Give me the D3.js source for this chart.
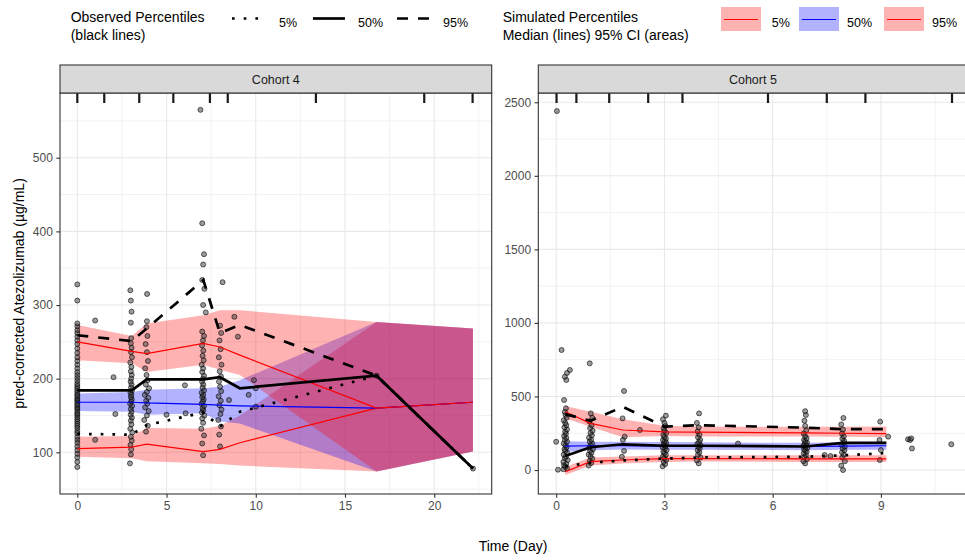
<!DOCTYPE html>
<html><head><meta charset="utf-8">
<script src="https://cdn.jsdelivr.net/npm/d3@7"></script>
<style>body{margin:0;background:#fff}svg{display:block;font-family:"Liberation Sans",Arial,sans-serif}</style>
</head><body><svg id="c" width="965" height="560"></svg>
<script>
// ---------- DATA ----------
const cohorts = ["Cohort 4", "Cohort 5"];
// Cohort 4 bin centres (days)
const bins4 = [0, 3.05, 3.89, 7.06, 7.99, 9.11, 16.77, 22.17];
const obs5_4 = [125, 124, 137, 154, 135, 155, 204, 78];
const obs50_4 = [184, 184, 199, 199, 202, 187, 204, 78];
const obs95_4 = [259, 251, 268, 334, 262, 273, 204, 78];
const sim5_4 = [105, 107, 111, 101, 104, 113, 160, 168];
const sim50_4 = [168, 168, 167, 165, 164, 163, 160, 168];
const sim95_4 = [250, 237, 234, 248, 243, 232, 160, 168];
const ci5lo_4 = [94, 92, 88, 85, 84, 82, 74, 101];
const ci5hi_4 = [121, 122, 133, 132, 136, 150, 277, 268];
const ci50lo_4 = [156, 155, 151, 153, 142, 139, 74, 101];
const ci50hi_4 = [180, 182, 185, 187, 189, 198, 277, 268];
const ci95lo_4 = [225, 221, 209, 219, 212, 205, 74, 101];
const ci95hi_4 = [273, 258, 275, 286, 293, 293, 277, 268];
const rug4 = [0, 1.51, 3.47, 5.38, 7.43, 8.43, 13.37, 19.44, 22.15];
// Cohort 5
const bins5 = [0.25, 0.95, 1.85, 3.0, 3.95, 6.9, 7.95, 9.15];
const obs5_5 = [25, 50, 65, 78, 85, 90, 100, 115];
const obs50_5 = [95, 155, 175, 165, 165, 160, 185, 185];
const obs95_5 = [380, 335, 430, 295, 305, 288, 278, 278];
const sim5_5 = [-12, 57, 68, 78, 78, 76, 76, 76];
const sim50_5 = [163, 165, 166, 163, 162, 160, 162, 165];
const sim95_5 = [396, 317, 272, 260, 258, 252, 250, 248];
const ci5lo_5 = [-34, 30, 45, 55, 58, 55, 55, 55];
const ci5hi_5 = [20, 85, 92, 100, 100, 100, 100, 100];
const ci50lo_5 = [125, 135, 140, 138, 138, 135, 137, 138];
const ci50hi_5 = [195, 192, 192, 190, 188, 185, 188, 192];
const ci95lo_5 = [352, 295, 222, 231, 228, 228, 226, 224];
const ci95hi_5 = [435, 396, 345, 301, 296, 294, 294, 296];
const rug5 = [0.01, 0.56, 1.47, 2.55, 3.5, 5.87, 7.5, 8.57, 10.97];
// observations [time, conc]
const pts4 = [
[0,80],[0,87],[0,93],[0,98],[0,103],[0,108],[0,113],[0,117],[0,121],[0,126],[0,129],[0,133],[0,136],[0,139],[0,142],[0,145],[0,148],[0,151],[0,153],[0,156],[0,159],[0,161],[0,164],[0,166],[0,169],[0,171],[0,173],[0,176],[0,178],[0,181],[0,184],[0,187],[0,190],[0,193],[0,197],[0,201],[0,205],[0,209],[0,214],[0,219],[0,224],[0,229],[0,235],[0,241],[0,247],[0,252],[0,257],[0,262],[0,266],[0,271],[0,275],[0,306],[0,328],
[1.0,279],[1.0,117],[2.03,202],[2.13,152],
[2.95,85],[3.0,97],[3.02,104],[2.98,110],[3.05,116],[3.0,121],[3.08,127],[2.97,132],[3.03,138],[3.0,143],[3.06,147],[2.99,151],[3.04,155],[3.0,159],[3.07,163],[2.96,166],[3.02,169],[3.05,172],[3.0,175],[3.03,178],[2.98,181],[3.06,184],[3.01,188],[3.04,192],[2.99,196],[3.02,200],[3.05,205],[3.0,210],[3.03,216],[2.97,222],[3.06,229],[3.01,236],[3.04,242],[3.0,248],[3.02,255],[3.0,276],[3.04,291],[3.0,306],[2.97,320],
[3.85,128],[3.95,136],[3.75,144],[3.9,150],[4.0,156],[3.8,161],[3.92,166],[3.86,170],[3.98,174],[3.78,178],[3.9,182],[4.02,187],[3.84,192],[3.94,198],[3.88,205],[3.8,214],[3.96,224],[3.9,236],[3.83,247],[3.93,258],[3.87,270],[3.9,278],[3.91,315],
[5.0,151],[6.03,191],[6.07,153],
[7.05,96],[7.0,112],[7.1,123],[6.95,132],[7.05,140],[7.0,146],[7.12,150],[6.98,154],[7.06,157],[7.02,160],[7.1,163],[6.96,166],[7.04,169],[7.08,172],[7.0,175],[7.05,178],[6.97,181],[7.1,184],[7.02,188],[7.06,192],[6.99,196],[7.04,200],[7.1,204],[7.0,209],[7.05,214],[6.97,219],[7.08,225],[7.02,231],[7.06,238],[6.99,245],[7.04,252],[7.1,258],[7.0,264],[7.2,290],[7.05,300],[7.12,322],[7.0,334],[7.05,355],[7.1,369],[7.0,411],[6.9,565],
[8.0,108],[7.95,124],[8.05,135],[7.9,144],[8.02,152],[8.08,158],[7.96,164],[8.04,170],[7.92,176],[8.06,183],[8.0,189],[7.94,196],[8.05,203],[7.98,210],[8.08,219],[7.93,229],[8.03,240],[7.97,252],[8.06,262],[8.0,272],[8.14,331],
[8.8,284],[9.0,257],[8.5,171],[9.9,198],[10.0,187],[10.0,162],[9.6,178],
[16.77,204],[22.17,78]
];
const pts5 = [
[0.02,2440],[0.0,192],[0.05,2],
[0.2,5],[0.3,12],[0.25,22],[0.22,32],[0.28,42],[0.2,55],[0.32,68],[0.24,80],[0.27,92],[0.21,105],[0.3,118],[0.25,130],[0.23,142],[0.29,155],[0.26,168],[0.21,180],[0.3,192],[0.24,205],[0.28,218],[0.22,232],[0.27,246],[0.25,260],[0.3,275],[0.23,290],[0.28,305],[0.25,320],[0.21,338],[0.29,356],[0.26,375],[0.24,395],[0.27,420],[0.22,476],[0.28,612],[0.24,634],[0.3,660],[0.38,680],[0.15,816],
[0.9,30],[0.97,48],[0.93,62],[1.0,78],[0.95,92],[0.9,105],[0.98,118],[0.94,130],[1.02,142],[0.92,155],[0.96,168],[1.0,180],[0.93,193],[0.97,206],[0.91,220],[0.99,236],[0.95,252],[1.01,268],[0.94,285],[0.98,305],[0.92,330],[1.0,355],[0.96,385],[0.93,725],
[1.82,90],[1.88,130],[1.85,205],[1.9,227],[1.84,351],[1.88,537],[2.32,272],[5.04,180],
[2.95,25],[3.02,40],[2.98,55],[3.05,68],[3.0,80],[2.96,92],[3.04,104],[3.0,115],[2.97,125],[3.06,135],[3.01,145],[2.95,155],[3.03,163],[3.0,170],[2.98,178],[3.05,186],[3.01,195],[2.96,204],[3.04,214],[3.0,225],[2.97,238],[3.05,252],[3.0,266],[2.98,282],[3.03,300],[3.0,320],[2.96,345],[3.04,370],
[3.95,45],[3.9,65],[4.0,85],[3.93,105],[3.97,120],[3.92,135],[3.98,148],[3.94,158],[4.0,168],[3.91,178],[3.96,190],[3.99,205],[3.93,222],[3.97,240],[3.92,262],[3.95,290],[3.9,320],[3.96,385],
[6.9,45],[6.85,60],[6.95,75],[6.88,90],[6.92,102],[6.86,114],[6.94,124],[6.9,133],[6.87,142],[6.96,150],[6.91,157],[6.85,164],[6.93,171],[6.89,178],[6.95,186],[6.9,195],[6.87,205],[6.94,216],[6.9,230],[6.86,248],[6.93,270],[6.9,300],[6.88,335],[6.92,374],[6.9,400],
[7.44,102],[7.6,95],
[7.95,0],[7.9,30],[8.0,60],[7.93,85],[7.97,105],[7.92,120],[7.99,135],[7.94,148],[8.0,160],[7.91,172],[7.96,185],[7.98,198],[7.93,212],[7.97,228],[7.92,248],[7.95,275],[7.9,310],[7.96,354],
[8.97,68],[9.0,136],[8.96,204],[9.2,227],[8.98,329],
[9.75,209],[9.81,204],[9.84,215],[9.86,147],[10.95,175]
];
const xTicks4 = [0, 5, 10, 15, 20], yTicks4 = [100, 200, 300, 400, 500];
const xTicks5 = [0, 3, 6, 9], yTicks5 = [0, 500, 1000, 1500, 2000, 2500];
const legendObs = ["5%", "50%", "95%"];
const legendSim = ["5%", "50%", "95%"];

// ---------- DRAW ----------
const svg = d3.select("#c");
const TOP = 93, BOT = 494, STRIP = 65;
const F = '"Liberation Sans",Arial,sans-serif';

const panels = [
  {name: cohorts[0], x0: 60, x1: 491.7, xdom: [-0.97, 23.22], ydom: [43.4, 587.9],
   xt: xTicks4, yt: yTicks4, xminor: [2.5, 7.5, 12.5, 17.5, 22.5], yminor: [50, 150, 250, 350, 450, 550],
   bins: bins4, o5: obs5_4, o50: obs50_4, o95: obs95_4, s5: sim5_4, s50: sim50_4, s95: sim95_4,
   c5: [ci5lo_4, ci5hi_4], c50: [ci50lo_4, ci50hi_4], c95: [ci95lo_4, ci95hi_4], rug: rug4, pts: pts4},
  {name: cohorts[1], x0: 538.3, x1: 971.5, xdom: [-0.4955, 11.51], ydom: [-163, 2563],
   xt: xTicks5, yt: yTicks5, xminor: [1.5, 4.5, 7.5, 10.5], yminor: [250, 750, 1250, 1750, 2250],
   bins: bins5, o5: obs5_5, o50: obs50_5, o95: obs95_5, s5: sim5_5, s50: sim50_5, s95: sim95_5,
   c5: [ci5lo_5, ci5hi_5], c50: [ci50lo_5, ci50hi_5], c95: [ci95lo_5, ci95hi_5], rug: rug5, pts: pts5}
];

panels.forEach((p, k) => {
  const sx = d3.scaleLinear().domain(p.xdom).range([p.x0, p.x1]);
  const sy = d3.scaleLinear().domain(p.ydom).range([BOT, TOP]);
  const g = svg.append("g");
  const cid = "clip" + k;
  svg.append("clipPath").attr("id", cid).append("rect")
    .attr("x", p.x0).attr("y", TOP).attr("width", p.x1 - p.x0).attr("height", BOT - TOP);
  g.append("rect").attr("x", p.x0).attr("y", TOP).attr("width", p.x1 - p.x0).attr("height", BOT - TOP).attr("fill", "#fff");
  const grid = g.append("g");
  p.xminor.forEach(v => grid.append("line").attr("x1", sx(v)).attr("x2", sx(v)).attr("y1", TOP).attr("y2", BOT).attr("stroke", "#F2F2F2").attr("stroke-width", 1));
  p.yminor.forEach(v => grid.append("line").attr("y1", sy(v)).attr("y2", sy(v)).attr("x1", p.x0).attr("x2", p.x1).attr("stroke", "#F2F2F2").attr("stroke-width", 1));
  p.xt.forEach(v => grid.append("line").attr("x1", sx(v)).attr("x2", sx(v)).attr("y1", TOP).attr("y2", BOT).attr("stroke", "#E8E8E8").attr("stroke-width", 1.1));
  p.yt.forEach(v => grid.append("line").attr("y1", sy(v)).attr("y2", sy(v)).attr("x1", p.x0).attr("x2", p.x1).attr("stroke", "#E8E8E8").attr("stroke-width", 1.1));

  const plot = g.append("g").attr("clip-path", `url(#${cid})`);
  const band = (lohi, col) => {
    const area = d3.area().x((d, i) => sx(p.bins[i])).y0((d, i) => sy(lohi[0][i])).y1((d, i) => sy(lohi[1][i]));
    plot.append("path").attr("d", area(p.bins)).attr("fill", col).attr("fill-opacity", 0.3);
  };
  band(p.c5, "#FF0000"); band(p.c50, "#0000FF"); band(p.c95, "#FF0000");

  plot.append("g").selectAll("circle").data(p.pts).join("circle")
    .attr("cx", d => sx(d[0])).attr("cy", d => sy(d[1])).attr("r", 2.5)
    .attr("fill", "#3a3a3a").attr("fill-opacity", 0.5).attr("stroke", "#000").attr("stroke-opacity", 0.65).attr("stroke-width", 0.9);

  const line = arr => d3.line().x((d, i) => sx(p.bins[i])).y((d, i) => sy(arr[i]))(p.bins);
  plot.append("path").attr("d", line(p.s5)).attr("fill", "none").attr("stroke", "#FF0000").attr("stroke-width", 1.2);
  plot.append("path").attr("d", line(p.s50)).attr("fill", "none").attr("stroke", "#0000FF").attr("stroke-width", 1.2);
  plot.append("path").attr("d", line(p.s95)).attr("fill", "none").attr("stroke", "#FF0000").attr("stroke-width", 1.2);

  plot.append("path").attr("d", line(p.o5)).attr("fill", "none").attr("stroke", "#000").attr("stroke-width", 2.7).attr("stroke-dasharray", "2.7,9");
  plot.append("path").attr("d", line(p.o50)).attr("fill", "none").attr("stroke", "#000").attr("stroke-width", 2.7);
  plot.append("path").attr("d", line(p.o95)).attr("fill", "none").attr("stroke", "#000").attr("stroke-width", 2.7).attr("stroke-dasharray", "11,10");

  // rug of bin boundaries
  plot.append("g").selectAll("line").data(p.rug).join("line")
    .attr("x1", d => sx(d)).attr("x2", d => sx(d)).attr("y1", TOP).attr("y2", TOP + 10)
    .attr("stroke", "#1a1a1a").attr("stroke-width", 2.2);

  // border
  g.append("rect").attr("x", p.x0).attr("y", TOP).attr("width", p.x1 - p.x0).attr("height", BOT - TOP)
    .attr("fill", "none").attr("stroke", "#333").attr("stroke-width", 1.1);
  // strip
  g.append("rect").attr("x", p.x0).attr("y", STRIP).attr("width", p.x1 - p.x0).attr("height", TOP - STRIP)
    .attr("fill", "#D9D9D9").attr("stroke", "#333").attr("stroke-width", 1.1);
  g.append("text").attr("x", (p.x0 + p.x1) / 2 - (k ? 2 : 0)).attr("y", (STRIP + TOP) / 2).attr("dy", "0.36em")
    .attr("text-anchor", "middle").attr("font-size", 12.5).attr("fill", "#1A1A1A").text(p.name);

  // axes
  const ax = g.append("g").attr("transform", `translate(0,${BOT})`)
    .call(d3.axisBottom(sx).tickValues(p.xt).tickSize(3.7).tickPadding(4).tickFormat(d3.format("d")));
  const ay = g.append("g").attr("transform", `translate(${p.x0},0)`)
    .call(d3.axisLeft(sy).tickValues(p.yt).tickSize(3.7).tickPadding(3.5).tickFormat(d3.format("d")));
  [ax, ay].forEach(a => {
    a.select(".domain").remove();
    a.selectAll("line").attr("stroke", "#333").attr("stroke-width", 1.1);
    a.selectAll("text").attr("fill", "#4D4D4D").attr("font-size", 12).attr("font-family", F);
  });
});

// axis titles
svg.append("text").attr("x", 513).attr("y", 551).attr("text-anchor", "middle").attr("font-size", 14).attr("fill", "#000").text("Time (Day)");
svg.append("text").attr("transform", "translate(24,293.5) rotate(-90)").attr("text-anchor", "middle").attr("font-size", 14).attr("fill", "#000")
  .text("pred-corrected Atezolizumab (µg/mL)");

// legend: observed
const lg = svg.append("g").attr("font-size", 14).attr("fill", "#000");
lg.append("text").attr("x", 70.7).attr("y", 21.5).text("Observed Percentiles");
lg.append("text").attr("x", 70.7).attr("y", 39.5).text("(black lines)");
const obsKeys = [{x: 232, dash: "2.7,9"}, {x: 313, dash: null}, {x: 397, dash: "11,10"}];
const obsLabX = [279, 358, 443];
obsKeys.forEach((kk, i) => {
  const l = lg.append("line").attr("x1", kk.x).attr("x2", kk.x + 32).attr("y1", 18.5).attr("y2", 18.5)
    .attr("stroke", "#000").attr("stroke-width", 2.7);
  if (kk.dash) l.attr("stroke-dasharray", kk.dash);
  lg.append("text").attr("x", obsLabX[i]).attr("y", 26.5).attr("font-size", 12.5).text(legendObs[i]);
});
// legend: simulated
lg.append("text").attr("x", 502.7).attr("y", 21.5).text("Simulated Percentiles");
lg.append("text").attr("x", 502.7).attr("y", 39.5).text("Median (lines) 95% CI (areas)");
const simKeyX = [721, 799, 884], simCol = ["#FF0000", "#0000FF", "#FF0000"], simLabX = [771.7, 847, 932];
simKeyX.forEach((x, i) => {
  lg.append("rect").attr("x", x).attr("y", 7).attr("width", 40).attr("height", 24).attr("fill", simCol[i]).attr("fill-opacity", 0.3);
  lg.append("line").attr("x1", x + 3).attr("x2", x + 37).attr("y1", 19.5).attr("y2", 19.5).attr("stroke", simCol[i]).attr("stroke-width", 1.2);
  lg.append("text").attr("x", simLabX[i]).attr("y", 26.5).attr("font-size", 12.5).text(legendSim[i]);
});
</script></body></html>
